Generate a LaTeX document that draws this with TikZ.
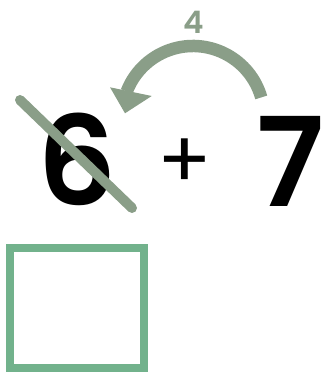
\documentclass[tikz,border=0pt]{standalone}
\usepackage{fontspec}
\setmainfont{Poppins}[BoldFont={* SemiBold}]
\definecolor{arcgreen}{RGB}{138,158,136}
\definecolor{boxgreen}{RGB}{114,178,140}
\begin{document}
\begin{tikzpicture}[x=1pt,y=1pt,
  digit/.style={inner sep=0pt,font=\fontsize{124}{124}\selectfont\bfseries},
  plusstyle/.style={inner sep=0pt,font=\fontsize{80}{80}\selectfont},
  lbl/.style={inner sep=0pt,text=arcgreen,font=\fontsize{31}{31}\selectfont\bfseries},
  jump/.style={draw=arcgreen,line width=12.5pt},
  strike/.style={draw=arcgreen,line width=10pt,line cap=round},
  answer/.style={draw=boxgreen,line width=8pt}]
\useasboundingbox (0,0) rectangle (324,372);
\node[digit] (six) at (77.5,213) {6};
\node[plusstyle] (plus) at (185,208) {+};
\node[digit] (seven) at (290.5,211) {7};
\node[lbl] (four) at (194,350) {4};
\draw[strike] (20,272) -- (132,164);
\coordinate (arcstart) at ([shift={(16:71)}]193,255);
\draw[jump] (arcstart) arc[start angle=16,end angle=159,radius=71] coordinate (arcend);
\fill[arcgreen] (125,258.7) -- (110,284.7) -- (151.7,276) -- cycle;
\draw[answer] (10,4) rectangle (144,124);
\end{tikzpicture}
\end{document}
